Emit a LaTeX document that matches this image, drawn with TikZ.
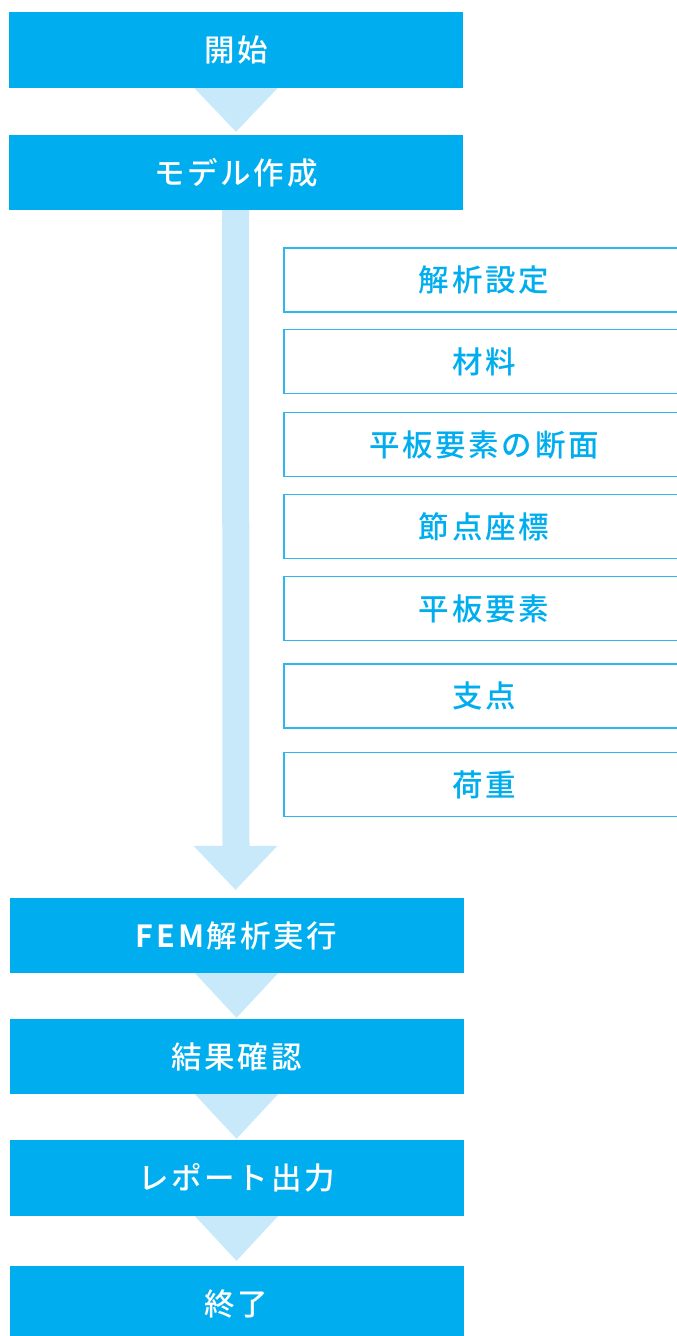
\documentclass[tikz,border=0pt]{standalone}
\usepackage{fontspec}
\newfontfamily\jp{Noto Sans CJK JP}[LetterSpace=9]
\newfontfamily\jpm{Noto Sans CJK JP}[UprightFont=* Medium, BoldFont=* Bold, LetterSpace=9]
\usetikzlibrary{calc}
\definecolor{dcyan}{HTML}{00AEEF}
\definecolor{lcyan}{HTML}{C8E9F9}
\definecolor{bcyan}{HTML}{2DB7EE}
\tikzset{
  mainbox/.style={fill=dcyan, draw=none, minimum width=454pt, minimum height=76pt, inner sep=0pt,
    text=white, font=\jpm\fontsize{30.5}{32}\selectfont},
  subbox/.style={draw=bcyan, line width=1.2pt, fill=white, minimum width=400pt, minimum height=64pt, inner sep=0pt,
    text=dcyan, font=\jpm\fontsize{30.5}{32}\selectfont},
  flow/.style={fill=lcyan, draw=none}
}
\begin{document}
\begin{tikzpicture}[x=1pt,y=-1pt]
\useasboundingbox (0,0) rectangle (677,1336);
\clip (0,0) rectangle (677,1336);
% main boxes
\node[mainbox] (start) at (236,50) {開始};
\node[mainbox, minimum height=75pt] (model) at (236,172.5) {モデル作成};
\node[mainbox, minimum height=75pt] (fem) at (236.5,935.5) {\textbf{FEM}解析実行};
\node[mainbox, minimum height=75pt] (result) at (236.5,1056.5) {結果確認};
\node[mainbox] (report) at (236.5,1178) {レポート出力};
\node[mainbox] (end) at (236.5,1304) {終了};
% sub boxes
\node[subbox] (s1) at (484,280) {解析設定};
\node[subbox] (s2) at (484,361.5) {材料};
\node[subbox] (s3) at (484,444.5) {平板要素の断面};
\node[subbox] (s4) at (484,526.5) {節点座標};
\node[subbox] (s5) at (484,608.5) {平板要素};
\node[subbox] (s6) at (484,696) {支点};
\node[subbox] (s7) at (484,784.5) {荷重};
% small triangles
\fill[flow] ($(start.south)+(-41.5,0)$) -- ($(start.south)+(41.5,0)$) -- ($(model.north)+(0,-3)$) -- cycle;
\fill[flow] ($(fem.south)+(-41.5,0)$) -- ($(fem.south)+(41.5,0)$) -- ($(result.north)+(0,-1)$) -- cycle;
\fill[flow] ($(result.south)+(-41.5,0)$) -- ($(result.south)+(41.5,0)$) -- ($(report.north)+(0,-1)$) -- cycle;
\fill[flow] ($(report.south)+(-41.5,0)$) -- ($(report.south)+(41.5,0)$) -- ($(end.north)+(0,-5)$) -- cycle;
% big arrow
\coordinate (headtop) at ($(fem.north)+(0,-52)$);
\fill[flow] ($(model.south)+(-14,0)$) -- ($(model.south)+(13,0)$)
  -- ($(headtop)+(13,0)$) -- ($(headtop)+(41,0)$) -- ($(fem.north)+(-1,-8)$)
  -- ($(headtop)+(-43,0)$) -- ($(headtop)+(-14,0)$) -- cycle;
\end{tikzpicture}
\end{document}
